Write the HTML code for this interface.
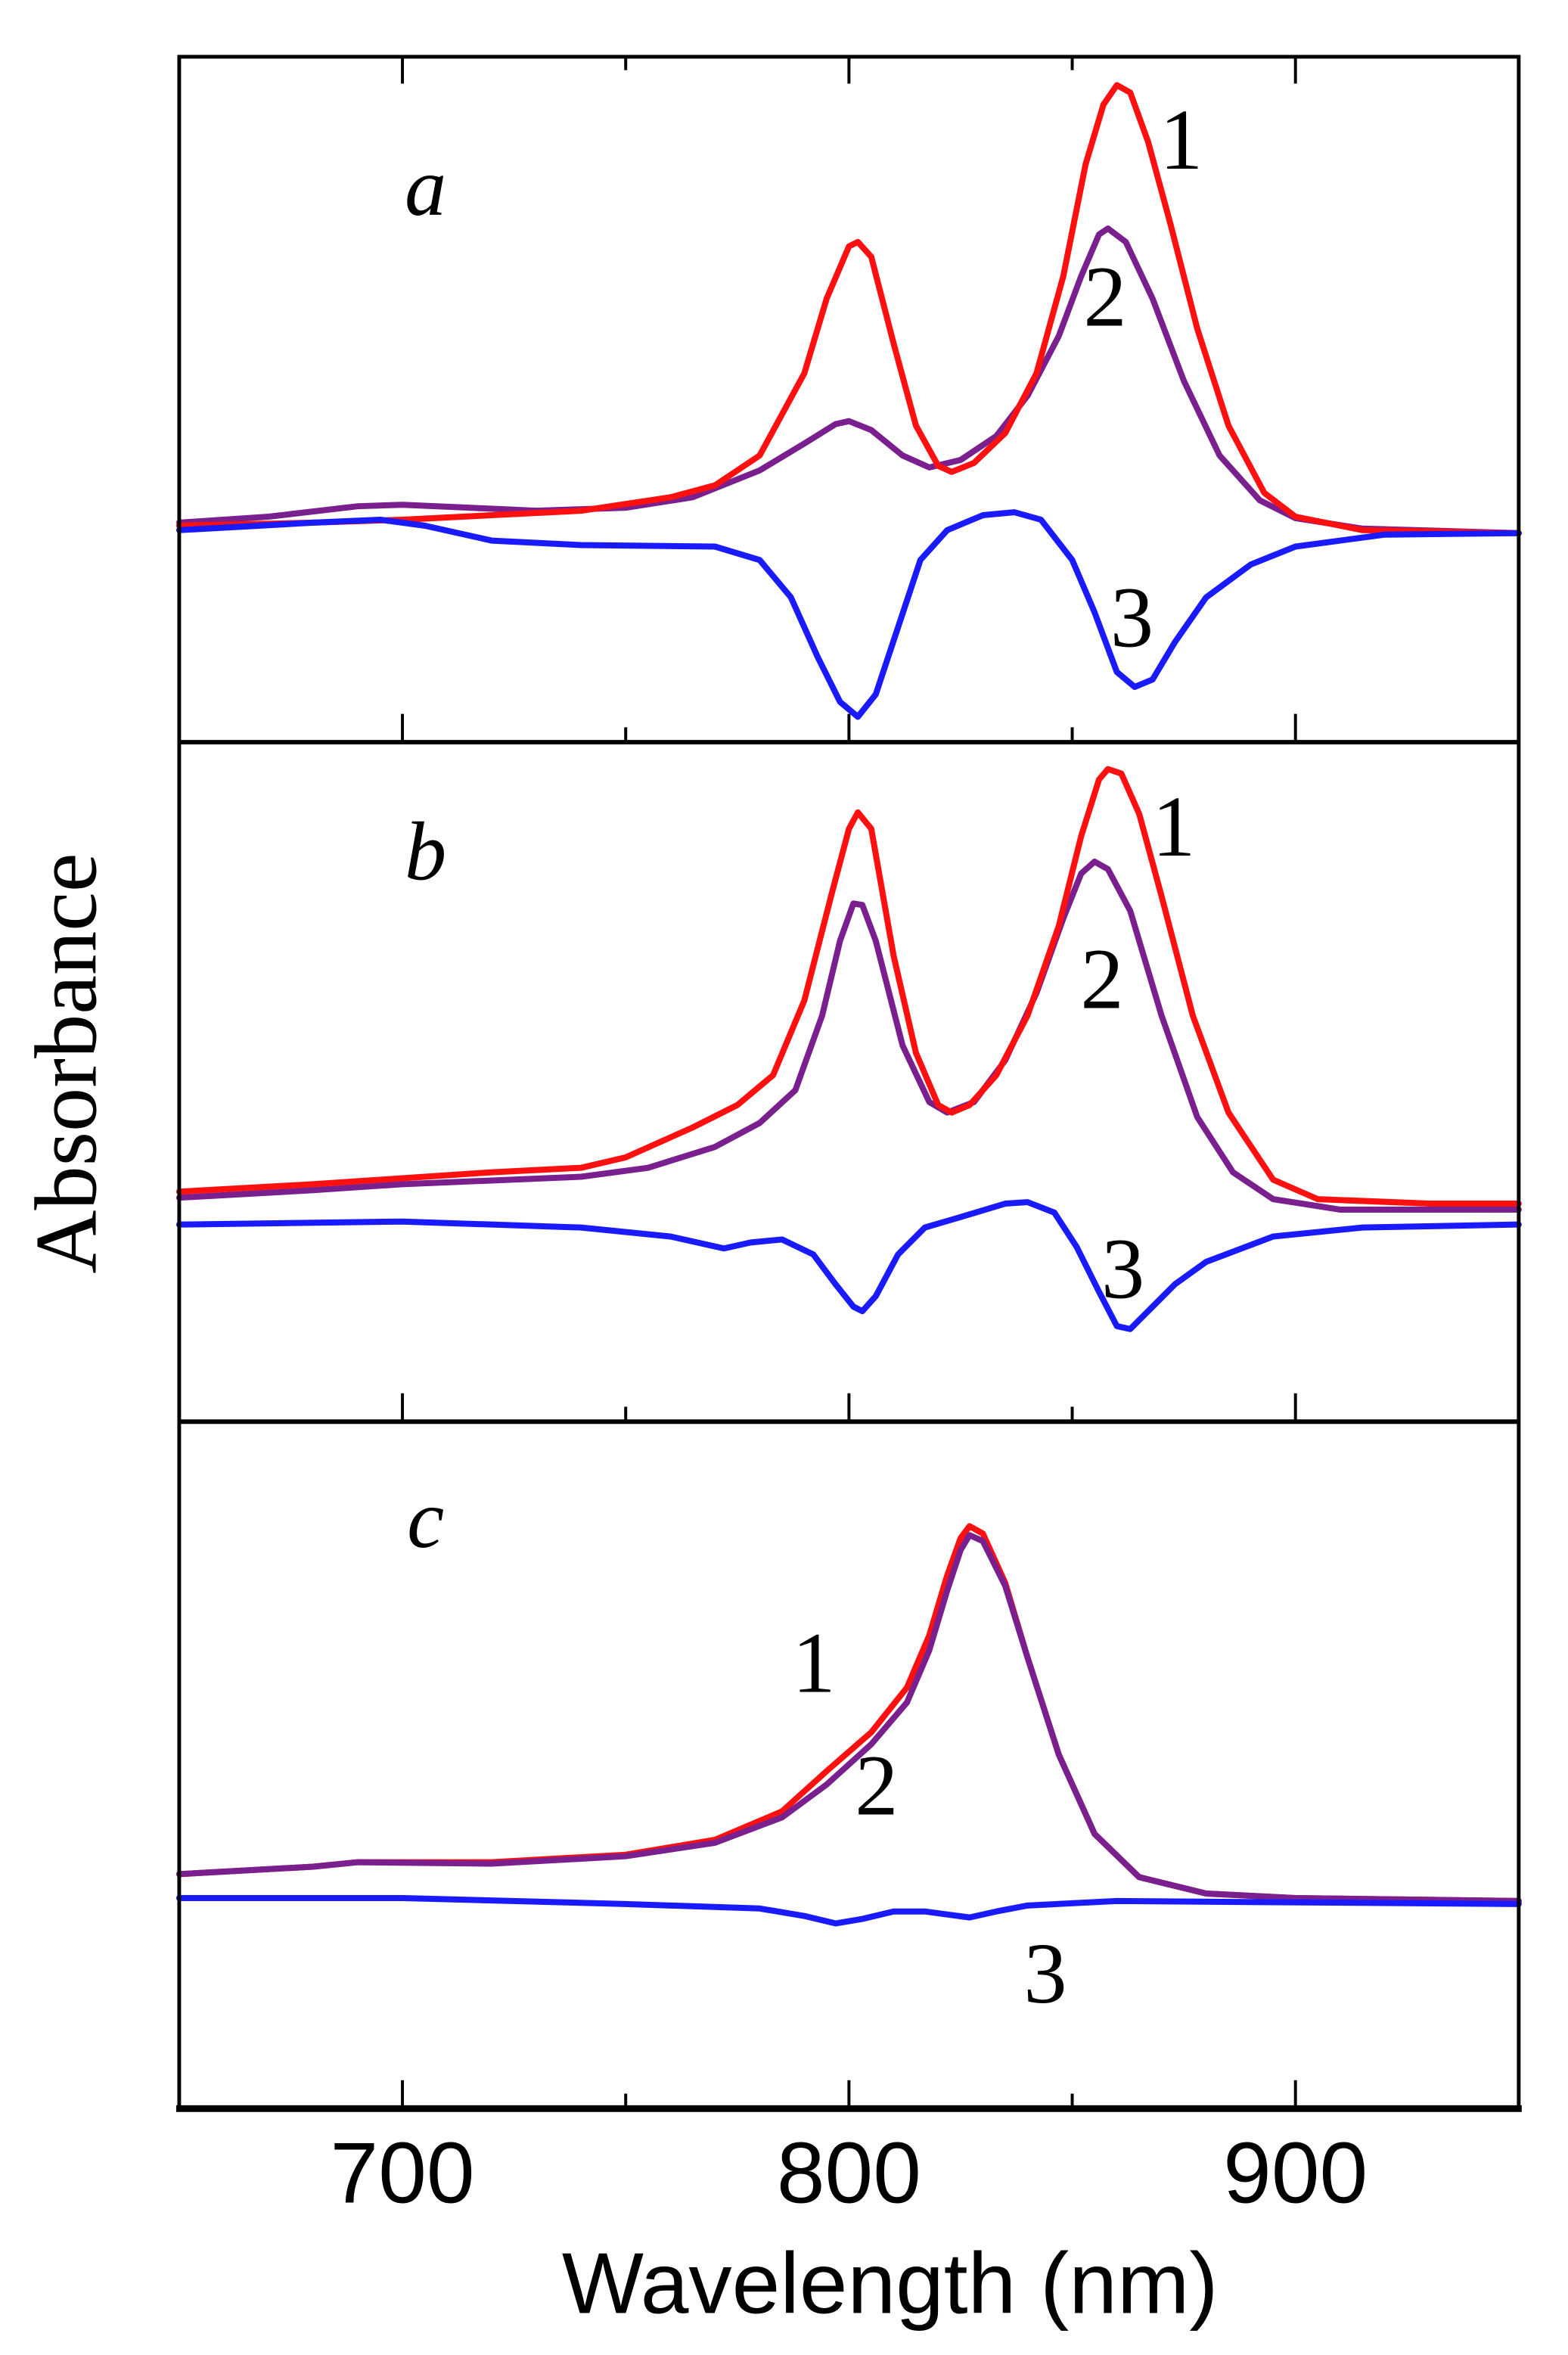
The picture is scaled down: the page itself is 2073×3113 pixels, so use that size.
<!DOCTYPE html>
<html><head><meta charset="utf-8"><style>
html,body{margin:0;padding:0;background:#fff;}
svg{display:block;}
</style></head><body>
<svg xmlns="http://www.w3.org/2000/svg" width="2073" height="3113" viewBox="0 0 1050 1577" preserveAspectRatio="none">
<rect width="1050" height="1577" fill="#fff"/>
<g fill="none" stroke-linejoin="round" stroke-linecap="round">
<g transform="translate(120,0) scale(2.99,1) translate(-650,0)">
<polyline vector-effect="non-scaling-stroke" stroke="#7a1f8e" stroke-width="8" points="650,350 670,346 690,339 700,338 715,340 730,342 750,340 765,333 780,315 790,297 797,284 800,282 805,288 812,305 818,313 825,308 833,292 840,265 847,225 852,185 856,157 858,153 862,162 868,200 875,255 883,305 892,335 900,347 915,354 950,357"/>
<polyline vector-effect="non-scaling-stroke" stroke="#ff1010" stroke-width="8" points="650,352 680,350 700,348 720,345 740,342 760,333 770,325 780,305 790,250 795,200 800,165 802,162 805,172 810,230 815,285 820,312 823,316 828,310 835,290 842,250 848,185 853,110 857,70 860,57 863,62 867,95 872,150 878,220 885,285 893,330 900,346 915,355 950,357"/>
<polyline vector-effect="non-scaling-stroke" stroke="#1a1aff" stroke-width="8" points="650,355 680,350 695,348 705,352 720,362 740,365 770,366 780,375 787,400 793,440 798,470 802,480 806,465 811,420 816,375 822,355 830,345 837,343 843,348 850,375 855,410 860,450 864,460 868,455 873,430 880,400 890,378 900,366 920,358 950,357"/>
<polyline vector-effect="non-scaling-stroke" stroke="#7a1f8e" stroke-width="8" points="650,802 680,797 700,793 740,788 755,782 770,768 780,752 788,730 794,680 798,630 801,605 803,606 806,630 812,700 818,738 822,745 828,738 835,710 842,665 848,615 852,585 855,577 858,582 863,610 870,680 878,748 886,785 895,803 910,810 950,810"/>
<polyline vector-effect="non-scaling-stroke" stroke="#ff1010" stroke-width="8" points="650,798 680,793 700,789 720,785 740,782 750,775 765,755 775,740 783,720 790,670 796,600 800,555 802,544 805,555 810,640 815,705 820,740 823,745 827,740 833,720 840,680 847,620 852,560 856,522 858,515 861,518 865,545 870,600 877,680 885,745 895,790 905,803 930,806 950,806"/>
<polyline vector-effect="non-scaling-stroke" stroke="#1a1aff" stroke-width="8" points="650,820 700,818 740,822 760,828 772,836 778,832 785,830 792,840 797,860 801,875 803,878 806,868 811,840 817,822 825,815 835,806 840,805 846,812 851,835 856,865 860,888 863,890 867,878 873,860 880,845 895,828 915,822 950,820"/>
<polyline vector-effect="non-scaling-stroke" stroke="#ff1010" stroke-width="8" points="650,1255 680,1250 690,1247 720,1247 750,1242 770,1232 785,1213 795,1186 805,1160 813,1130 818,1095 822,1055 825,1030 827,1022 830,1027 835,1060 840,1110 847,1175 855,1228 865,1257 880,1268 900,1271 950,1273"/>
<polyline vector-effect="non-scaling-stroke" stroke="#7a1f8e" stroke-width="8" points="650,1255 680,1250 690,1247 720,1248 750,1243 770,1234 785,1217 795,1195 805,1168 813,1140 818,1105 822,1065 825,1038 827,1028 830,1032 835,1062 840,1110 847,1175 855,1228 865,1257 880,1268 900,1271 950,1273"/>
<polyline vector-effect="non-scaling-stroke" stroke="#1a1aff" stroke-width="8" points="650,1271 700,1271 750,1275 780,1278 790,1283 797,1288 803,1285 810,1280 817,1280 822,1282 827,1284 833,1280 840,1276 860,1273 950,1275"/>
</g>
</g>
<g stroke="#000" fill="none">
<rect x="120" y="38" width="897" height="1374" stroke-width="2.5"/>
<line x1="120" y1="497" x2="1017" y2="497" stroke-width="3"/>
<line x1="120" y1="952" x2="1017" y2="952" stroke-width="3"/>
<line x1="118" y1="1412" x2="1019" y2="1412" stroke-width="4.5"/>
<g stroke-width="2">
<path d="M269.5,38v18M568.5,38v18M867.5,38v18M419,38v9M718,38v9"/>
<path d="M269.5,497v-19M568.5,497v-19M867.5,497v-19M419,497v-10M718,497v-10"/>
<path d="M269.5,952v-19M568.5,952v-19M867.5,952v-19M419,952v-10M718,952v-10"/>
<path d="M269.5,1412v-19M568.5,1412v-19M867.5,1412v-19M419,1412v-10M718,1412v-10"/>
</g>
</g>
<g font-family="'Liberation Sans', sans-serif" font-size="58" text-anchor="middle" fill="#000">
<text x="269.5" y="1475">700</text>
<text x="568.5" y="1475">800</text>
<text x="867.5" y="1475">900</text>
<text x="596" y="1549">Wavelength (nm)</text>
</g>
<text transform="translate(64,712) rotate(-90)" font-family="'Liberation Serif', serif" font-size="59" text-anchor="middle">Absorbance</text>
<g font-family="'Liberation Serif', serif" font-size="56" font-style="italic" text-anchor="middle">
<text x="285" y="144">a</text>
<text x="285" y="589">b</text>
<text x="285" y="1036">c</text>
</g>
<g font-family="'Liberation Serif', serif" font-size="58" text-anchor="middle">
<text x="791" y="113">1</text>
<text x="740" y="218">2</text>
<text x="758" y="433">3</text>
<text x="786" y="573">1</text>
<text x="738" y="675">2</text>
<text x="752" y="869">3</text>
<text x="545" y="1133">1</text>
<text x="587" y="1215">2</text>
<text x="700" y="1341">3</text>
</g>
</svg>
</body></html>
